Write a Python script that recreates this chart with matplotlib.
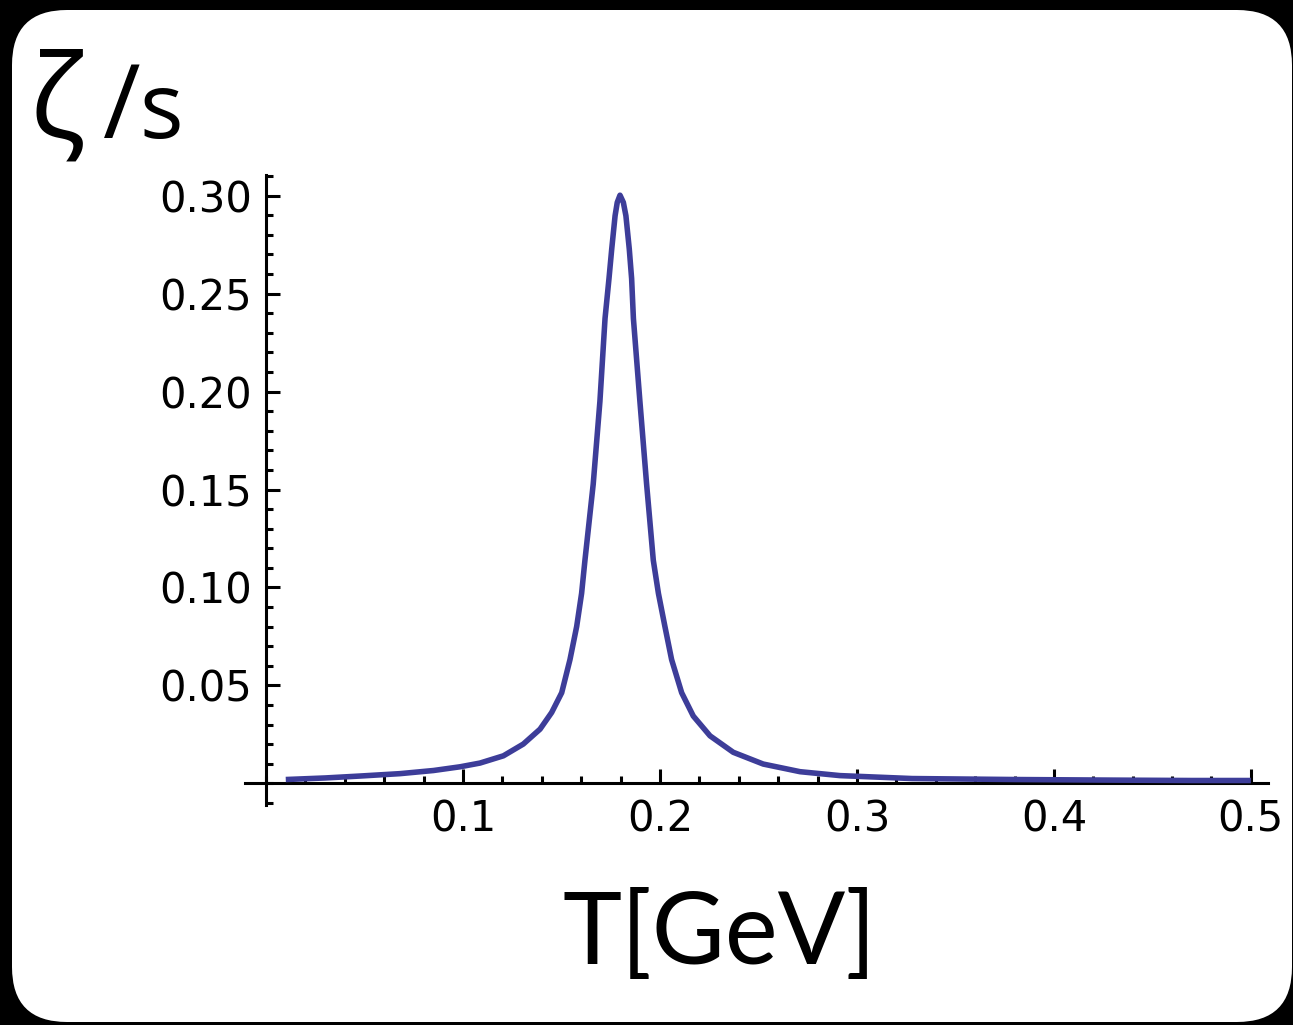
import matplotlib
matplotlib.use("Agg")
import matplotlib.pyplot as plt
from matplotlib.patches import FancyBboxPatch
from matplotlib.ticker import MultipleLocator, FixedLocator

# data: T [GeV] and zeta/s
T = [0.0100, 0.0300, 0.0480, 0.0680, 0.0850, 0.0985, 0.1086, 0.1205, 0.1306,
     0.1391, 0.1450, 0.1501, 0.1543, 0.1577, 0.1602, 0.1619, 0.1661, 0.1695,
     0.1721, 0.1741, 0.1755, 0.1772, 0.1783, 0.1797, 0.1814, 0.1827, 0.1844,
     0.1856, 0.1865, 0.1898, 0.1932, 0.1966, 0.1992, 0.2025, 0.2059, 0.2110,
     0.2169, 0.2254, 0.2372, 0.2524, 0.2711, 0.2914, 0.3280, 0.3800, 0.4300,
     0.4700, 0.5000]
zeta_s = [0.0020, 0.0028, 0.0038, 0.0050, 0.0066, 0.0085, 0.0104, 0.0141, 0.0201,
          0.0277, 0.0362, 0.0463, 0.0632, 0.0801, 0.0970, 0.1139, 0.1528, 0.1950,
          0.2373, 0.2576, 0.2728, 0.2897, 0.2965, 0.3002, 0.2965, 0.2897, 0.2728,
          0.2576, 0.2373, 0.1950, 0.1528, 0.1139, 0.0970, 0.0801, 0.0632, 0.0463,
          0.0344, 0.0243, 0.0159, 0.0099, 0.0060, 0.0040, 0.0025, 0.0020, 0.0017,
          0.0015, 0.0015]
xticks = [0.1, 0.2, 0.3, 0.4, 0.5]
xticklabels = ["0.1", "0.2", "0.3", "0.4", "0.5"]
yticks = [0.05, 0.10, 0.15, 0.20, 0.25, 0.30]
yticklabels = ["0.05", "0.10", "0.15", "0.20", "0.25", "0.30"]

W, H = 1293, 1025
fig = plt.figure(figsize=(W / 100, H / 100), dpi=100, facecolor="black")

card = FancyBboxPatch((12, 3), 1280, 1012,
                      boxstyle="round,pad=0,rounding_size=55",
                      transform=None, facecolor="white", edgecolor="none", zorder=0)
fig.add_artist(card)

ax = fig.add_axes([245 / W, 220 / H, (1268 - 245) / W, (850 - 220) / H])
ax.set_facecolor("none")
ax.plot(T, zeta_s, color="#3d3d99", lw=4.0, solid_joinstyle="round",
        solid_capstyle="butt", zorder=3)

ax.set_xlim(-0.0107, 0.5087)
ax.set_ylim(-0.011, 0.3105)

for s in ["top", "right"]:
    ax.spines[s].set_visible(False)
ax.spines["left"].set_position(("data", 0))
ax.spines["bottom"].set_position(("data", 0))
for s in ["left", "bottom"]:
    ax.spines[s].set_linewidth(2.2)
    ax.spines[s].set_color("black")

ax.xaxis.set_major_locator(FixedLocator(xticks))
ax.set_xticklabels(xticklabels)
ax.xaxis.set_minor_locator(MultipleLocator(0.02))
ax.yaxis.set_major_locator(FixedLocator(yticks))
ax.set_yticklabels(yticklabels)
ax.yaxis.set_minor_locator(MultipleLocator(0.01))

ax.tick_params(axis="both", which="major", direction="in", length=10, width=2.2,
               labelsize=30, color="black", labelcolor="black")
ax.tick_params(axis="both", which="minor", direction="in", length=5, width=2.2, color="black")
ax.tick_params(axis="x", which="major", pad=11)
ax.tick_params(axis="y", which="major", pad=10)
for lab in ax.get_xticklabels() + ax.get_yticklabels():
    lab.set_family(["DejaVu Sans"])

lab_font = ["Open Sans", "DejaVu Sans"]
fig.text(30 / W, 1 - 138 / H, "ζ", fontsize=84, family=lab_font,
         color="black", ha="left", va="baseline")
fig.text(103 / W, 1 - 138 / H, "/", fontsize=74, family=lab_font,
         color="black", ha="left", va="baseline")
fig.text(139 / W, 1 - 138 / H, "s", fontsize=66, family=lab_font,
         color="black", ha="left", va="baseline")
fig.text(720 / W, 1 - 935 / H, "T[GeV]", fontsize=72, family=["Lato", "DejaVu Sans"],
         color="black", ha="center", va="center")

fig.savefig("out.png", dpi=100, facecolor="black")
